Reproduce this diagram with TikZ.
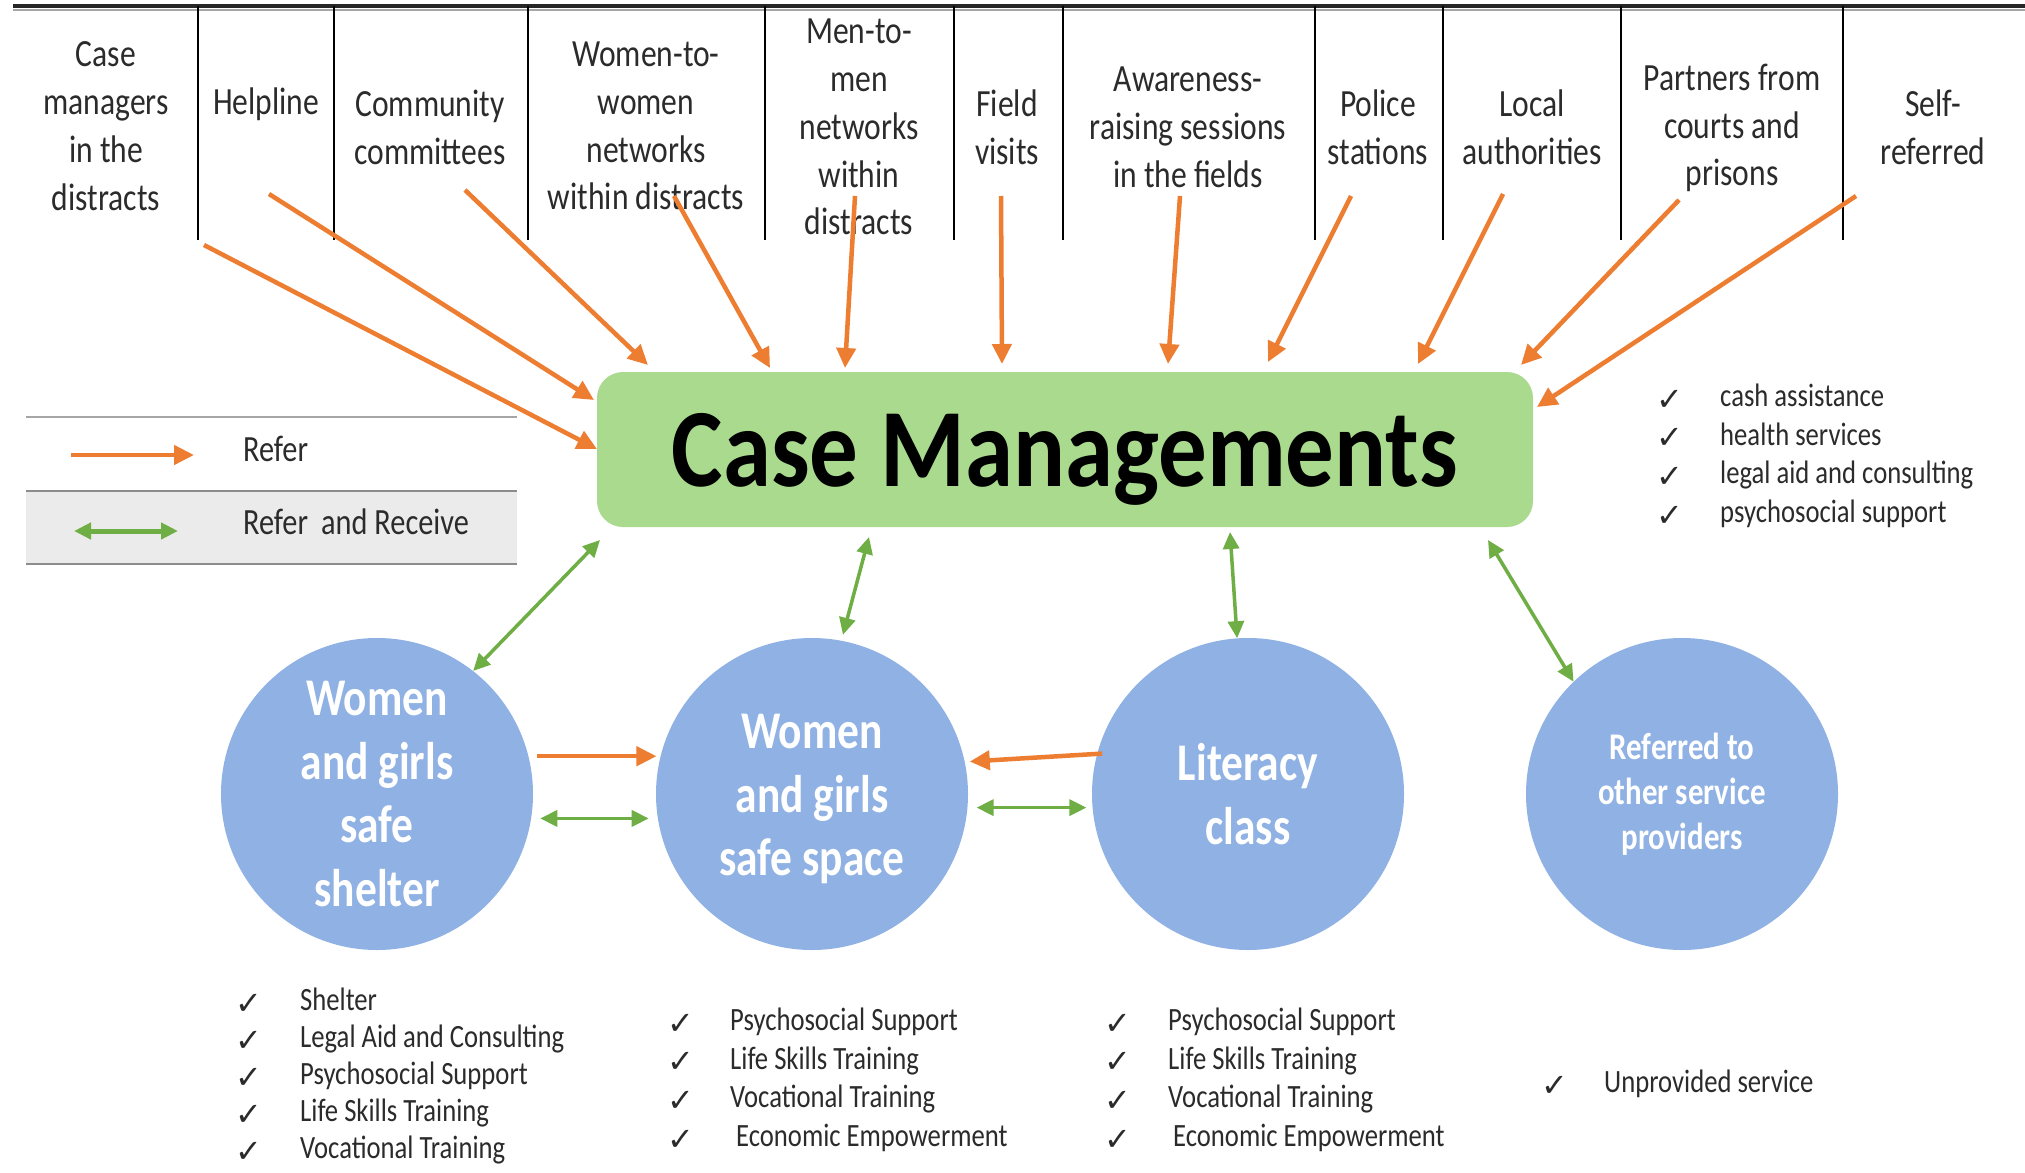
\documentclass[tikz,border=0pt]{standalone}
\usepackage{fontspec}
\setmainfont{Carlito}[FakeStretch=0.82]
\newfontfamily\cmfont{Carlito}[FakeStretch=0.87]
\newfontfamily\ckfont{DejaVu Sans}
\usetikzlibrary{arrows.meta}
\definecolor{orA}{HTML}{ED7D31}
\definecolor{grA}{HTML}{6FAE45}
\definecolor{boxG}{HTML}{A9DA8E}
\definecolor{circB}{HTML}{8FB1E3}
\definecolor{txtD}{HTML}{2B2B2B}
\newcommand\lowerby[2]{\raisebox{-#1}[\height][\depth]{#2}}
\tikzset{
  lab/.style={align=center, inner sep=0pt, text=txtD, font=\fontsize{38.5}{47.8}\selectfont},
  refer/.style={draw=orA, line width=4.5pt, -{Triangle[length=20pt,width=19pt]}},
  rr/.style={draw=grA, line width=3.5pt, {Triangle[length=17pt,width=16pt]}-{Triangle[length=17pt,width=16pt]}},
  circ/.style={circle, fill=circB, minimum size=312pt, inner sep=0pt, align=center, text=white},
  item/.style={anchor=west, inner sep=0pt, text=txtD, text height=0.7em, text depth=0.2em, font=\fontsize{32.5}{38}\selectfont},
  chk/.style={inner sep=0pt, text=txtD, font=\ckfont\fontsize{32}{36}\selectfont},
  divline/.style={line width=2.5pt, draw=black},
}
\begin{document}
\begin{tikzpicture}[x=1pt,y=-1pt]
\useasboundingbox (0,0) rectangle (2025,1172);
\fill[white] (0,0) rectangle (2025,1172);

% top rule and dividers
\draw[line width=2pt, draw=black!35] (13,10) -- (2025,10);
\draw[line width=3.5pt, draw=black!85] (13,6) -- (2025,6);
\foreach \xx in {198,334,528,765,954,1063,1315,1443,1621,1843}
  \draw[divline] (\xx,6) -- (\xx,240);

% top labels
\node[lab] (l1) at (106,126) {Case\\managers\\in the\\distracts};
\node[lab] (l2) at (266,104) {Helpline};
\node[lab] (l3) at (430,127) {Community\\committees};
\node[lab] (l4) at (646,126) {Women-to-\\women\\networks\\within distracts};
\node[lab] (l5) at (859,127) {Men-to-\\men\\networks\\within\\distracts};
\node[lab] (l6) at (1007,127) {Field\\visits};
\node[lab] (l7) at (1188,127) {Awareness-\\raising sessions\\in the fields};
\node[lab] (l8) at (1378,127) {Police\\stations};
\node[lab] (l9) at (1532,127) {Local\\authorities};
\node[lab] (l10) at (1732,128) {Partners from\\courts and\\prisons};
\node[lab] (l11) at (1933,127) {Self-\\referred};

% central box
\node[rounded corners=26pt, fill=boxG, minimum width=936pt, minimum height=155pt, inner sep=0pt,
      font=\cmfont\bfseries\fontsize{111.5}{120}\selectfont, text=black] (cm) at (1065,449.5) {\lowerby{10pt}{Case Managements}};

% legend
\fill[black!8] (26,491) rectangle (517,564);
\draw[line width=2.5pt, draw=black!35] (26,417) -- (517,417);
\draw[line width=2.5pt, draw=black!45] (26,491) -- (517,491);
\draw[line width=2.5pt, draw=black!45] (26,564) -- (517,564);
\coordinate (lga) at (71,455);
\coordinate (lgb) at (194,455);
\coordinate (lgc) at (74,531);
\coordinate (lgd) at (178,531);
\draw[refer] (lga) -- (lgb);
\draw[rr, line width=5pt] (lgc) -- (lgd);
\node[item, font=\fontsize{37}{44}\selectfont] (lgt1) at (243,459) {Refer};
\node[item, font=\fontsize{37}{44}\selectfont] (lgt2) at (243,532) {Refer\, and Receive};

% orange referral arrows from the top
\coordinate (s1) at (204,245);  \coordinate (e1) at (597,449);
\coordinate (s2) at (269,194);  \coordinate (e2) at (594,400);
\coordinate (s3) at (465,190);  \coordinate (e3) at (648,365);
\coordinate (s4) at (674,196);  \coordinate (e4) at (770,368);
\coordinate (s5) at (855,196);  \coordinate (e5) at (845,368);
\coordinate (s6) at (1001,196); \coordinate (e6) at (1002,364);
\coordinate (s7) at (1180,196); \coordinate (e7) at (1168,364);
\coordinate (s8) at (1351,196); \coordinate (e8) at (1268,362);
\coordinate (s9) at (1503,194); \coordinate (e9) at (1418,364);
\coordinate (s10) at (1679,200); \coordinate (e10) at (1521,365);
\coordinate (s11) at (1856,196); \coordinate (e11) at (1537,407);
\foreach \i in {1,...,11} \draw[refer] (s\i) -- (e\i);

% circles
\node[circ, font=\bfseries\fontsize{53}{63.5}\selectfont] (c1) at (377,794) {Women\\and girls\\safe\\shelter};
\node[circ, font=\bfseries\fontsize{53}{63.5}\selectfont] (c2) at (812,794) {\lowerby{5pt}{Women}\\\lowerby{5pt}{and girls}\\\lowerby{5pt}{safe space}};
\node[circ, font=\bfseries\fontsize{53}{63.5}\selectfont] (c3) at (1248,794) {Literacy\\class};
\node[circ, font=\bfseries\fontsize{37.7}{45}\selectfont] (c4) at (1682,794) {Referred to\\other service\\providers};

% green arrows box <-> circles
\coordinate (ba) at (600,540);
\coordinate (bb) at (869,537);
\coordinate (bc) at (1230,532);
\coordinate (bd) at (1488,540);
\draw[rr] (ba) -- (c1.52);
\draw[rr] (bb) -- ([shift={(79:6pt)}]c2.79);
\draw[rr] (bc) -- (c3.94);
\draw[rr] (bd) -- (c4.134);

% arrows between circles
\draw[refer] ([xshift=8pt]c1.14) -- ([xshift=-4pt]c2.166);
\draw[rr] ([xshift=9pt]c1.-9) -- ([xshift=-9pt]c2.189);
\draw[refer] ([xshift=5pt]c3.165) -- ([xshift=5pt]c2.12);
\draw[rr] ([xshift=9pt]c2.-5) -- ([xshift=-6pt]c3.185);

% right list
\foreach \t [count=\i from 0] in {cash assistance, health services, legal aid and consulting, psychosocial support}{
  \node[chk] (rc\i) at (1670,400+38.7*\i) {✓};
  \node[item] (rt\i) at (1720,404+38.7*\i) {\t};
}

% list under shelter
\foreach \t [count=\i from 0] in {Shelter, Legal Aid and Consulting, Psychosocial Support, Life Skills Training, Vocational Training}{
  \node[chk] (ac\i) at (249,1004+37*\i) {✓};
  \node[item] (at\i) at (300,1008+37*\i) {\t};
}
% list under safe space
\foreach \t [count=\i from 0] in {Psychosocial Support, Life Skills Training, Vocational Training}{
  \node[chk] (bc\i) at (681,1024+38.7*\i) {✓};
  \node[item] (bt\i) at (730,1028+38.7*\i) {\t};
}
\node[chk] (bc3) at (681,1140) {✓};
\node[item] (bt3) at (736,1144) {Economic Empowerment};
% list under literacy
\foreach \t [count=\i from 0] in {Psychosocial Support, Life Skills Training, Vocational Training}{
  \node[chk] (cc\i) at (1118,1024+38.7*\i) {✓};
  \node[item] (ct\i) at (1168,1028+38.7*\i) {\t};
}
\node[chk] (cc3) at (1118,1140) {✓};
\node[item] (ct3) at (1173,1144) {Economic Empowerment};
% list under referred
\node[chk] (dc0) at (1555,1086) {✓};
\node[item] (dt0) at (1604,1090) {Unprovided service};
\end{tikzpicture}
\end{document}
